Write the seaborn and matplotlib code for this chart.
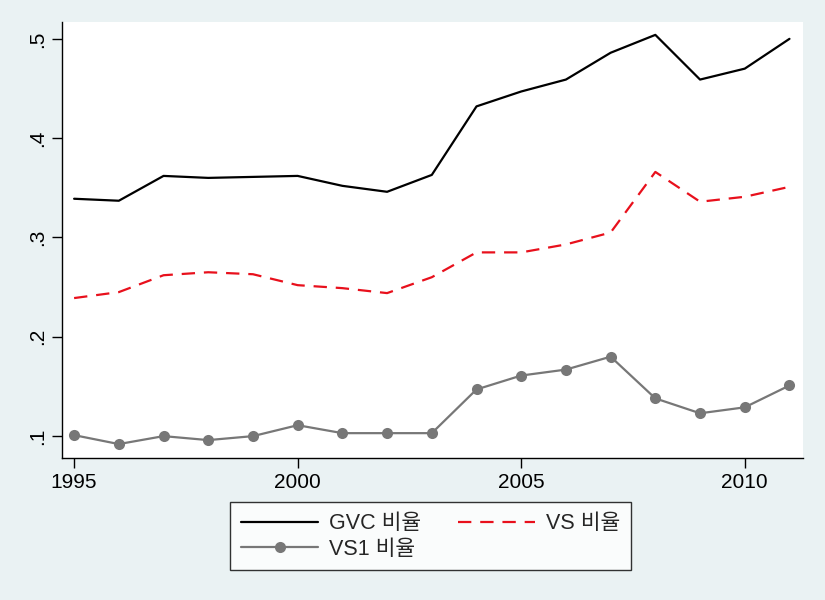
import pandas as pd
import matplotlib
matplotlib.use('Agg')
import matplotlib.pyplot as plt
import seaborn as sns
from matplotlib.ticker import FuncFormatter

# Data
years = list(range(1995, 2012))
gvc = [0.339, 0.337, 0.362, 0.360, 0.361, 0.362, 0.352, 0.346, 0.363,
       0.432, 0.447, 0.459, 0.486, 0.504, 0.459, 0.470, 0.500]
vs = [0.239, 0.245, 0.262, 0.265, 0.263, 0.252, 0.249, 0.244, 0.260,
      0.285, 0.285, 0.293, 0.305, 0.366, 0.336, 0.341, 0.351]
vs1 = [0.101, 0.092, 0.100, 0.096, 0.100, 0.111, 0.103, 0.103, 0.103,
       0.147, 0.161, 0.167, 0.180, 0.138, 0.123, 0.129, 0.151]
labels = ['GVC 비율', 'VS 비율', 'VS1 비율']

df = pd.DataFrame({'year': years, 'gvc': gvc, 'vs': vs, 'vs1': vs1})

sns.set_style('ticks')
plt.rcParams['font.family'] = ['Liberation Sans', 'Noto Sans CJK KR', 'DejaVu Sans']

bg = '#eaf2f3'
fig = plt.figure(figsize=(8.25, 6), dpi=100, facecolor=bg)
ax = fig.add_axes([0.0752, 0.2367, 0.898, 0.7267])
ax.set_facecolor('white')

sns.lineplot(data=df, x='year', y='gvc', ax=ax, color='black', lw=1.6,
             label=labels[0])
sns.lineplot(data=df, x='year', y='vs', ax=ax, color='#e8101c', lw=1.6,
             label=labels[1])
sns.lineplot(data=df, x='year', y='vs1', ax=ax, color='#777777', lw=1.6,
             marker='o', markersize=8, markeredgewidth=0, label=labels[2])
ax.lines[1].set_dashes([6, 4])

ax.set_xlim(1994.73, 2011.30)
ax.set_ylim(0.078, 0.517)
ax.set_xticks([1995, 2000, 2005, 2010])
ax.set_yticks([0.1, 0.2, 0.3, 0.4, 0.5])
ax.yaxis.set_major_formatter(FuncFormatter(lambda v, p: f'{v:.1f}'.lstrip('0')))
ax.set_xlabel('')
ax.set_ylabel('')
ax.tick_params(axis='both', direction='out', length=7, width=1,
               labelsize=15, colors='black')
plt.setp(ax.get_yticklabels(), rotation=90, va='center')
for s in ['top', 'right']:
    ax.spines[s].set_visible(False)
for s in ['left', 'bottom']:
    ax.spines[s].set_color('black')
    ax.spines[s].set_linewidth(1)

# legend below the plot, two columns, Stata-like box
handles, labs = ax.get_legend_handles_labels()
ax.get_legend().remove()
order = [0, 2, 1]
leg = fig.legend([handles[i] for i in order], [labs[i] for i in order],
                 ncol=2, loc='center', bbox_to_anchor=(0.522, 0.106),
                 bbox_transform=fig.transFigure, fontsize=15.5,
                 frameon=True, fancybox=False, edgecolor='black',
                 handlelength=3.6, handletextpad=0.5, columnspacing=1.7,
                 borderpad=0.5, labelspacing=0.2)
leg.get_frame().set_linewidth(1)

fig.savefig('out.png', dpi=100, facecolor=bg)
